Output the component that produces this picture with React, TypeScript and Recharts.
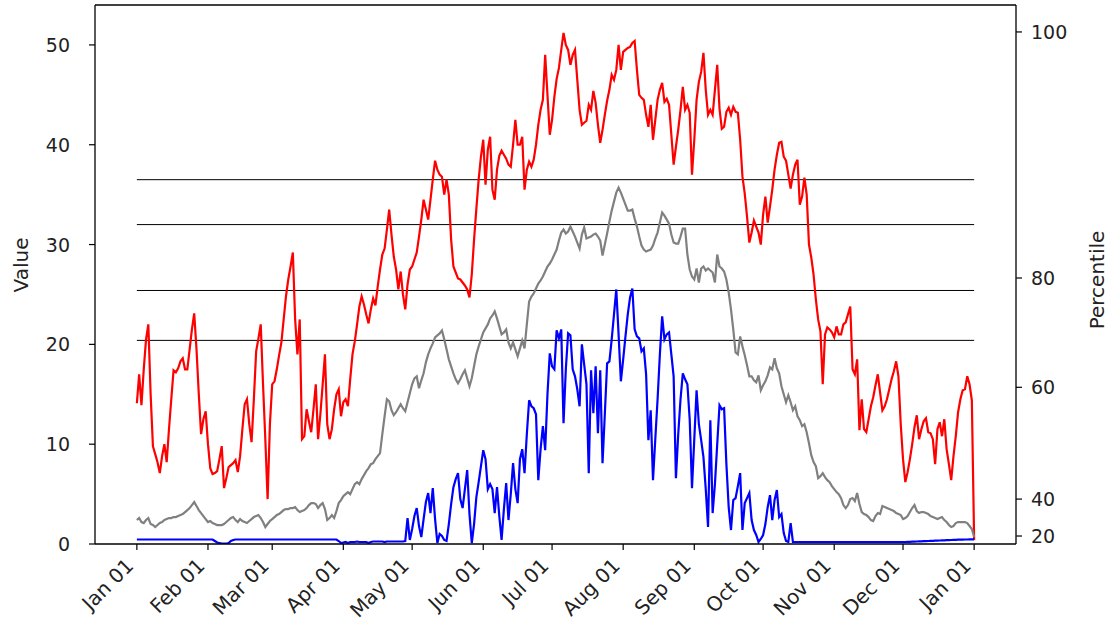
import { ComposedChart, Line, XAxis, YAxis, ReferenceLine } from 'recharts'

// month starts, counted in days from Jan 01
const monthDays = [0, 31, 59, 90, 120, 151, 181, 212, 243, 273, 304, 334, 365]
const monthLabels = [
  'Jan 01', 'Feb 01', 'Mar 01', 'Apr 01', 'May 01', 'Jun 01', 'Jul 01',
  'Aug 01', 'Sep 01', 'Oct 01', 'Nov 01', 'Dec 01', 'Jan 01',
]

const valueTicks = [0, 10, 20, 30, 40, 50]

// right axis: value level at which each percentile sits
const percentileTicks = [0.8, 4.5, 15.7, 26.65, 51.3]
const percentileLabels = ['20', '40', '60', '80', '100']

// threshold levels drawn as thin black lines across the year
const thresholdLevels = [36.5, 32.0, 25.4, 20.4]

const redValues = [
  14.1, 17.0, 13.9, 17.5, 20.5, 22.0, 15.0, 9.8, 9.0, 8.2,
  7.1, 8.8, 10.0, 8.2, 11.5, 14.5, 17.4, 17.2, 17.6, 18.3,
  18.6, 17.5, 17.5, 19.5, 21.5, 23.1, 19.5, 15.0, 11.0, 12.5,
  13.3, 10.0, 7.6, 7.0, 7.1, 7.3, 8.5, 9.8, 5.6, 6.6,
  7.7, 7.9, 8.1, 8.4, 7.2, 8.8, 11.5, 14.0, 14.5, 12.0,
  10.2, 14.5, 19.3, 20.6, 22.0, 16.0, 10.5, 4.5, 12.0, 16.0,
  16.3, 17.5, 18.9, 20.2, 22.5, 24.8, 26.5, 27.8, 29.2, 22.5,
  19.0, 22.5, 10.5, 10.8, 13.5, 12.3, 11.2, 13.5, 16.0, 10.5,
  13.0, 16.0, 19.0, 12.0, 10.5, 11.5, 13.5, 15.0, 15.5, 12.8,
  14.2, 14.5, 13.8, 16.5, 19.0, 20.3, 22.0, 23.8, 24.8, 24.0,
  23.0, 22.1, 23.5, 24.6, 23.9, 25.8, 27.5, 29.0, 29.6, 31.5,
  33.5, 31.0, 28.8, 27.5, 25.5, 27.3, 25.0, 23.5, 26.0, 27.5,
  27.8, 28.5, 29.2, 30.8, 32.5, 34.5, 33.5, 32.5, 34.5, 36.5,
  38.4, 37.5, 37.0, 36.8, 35.0, 36.5, 35.0, 30.5, 27.8, 27.2,
  26.6, 26.5, 26.2, 25.9, 25.5, 24.7, 27.0, 30.5, 33.6, 36.5,
  38.8, 40.5, 36.0, 39.5, 40.8, 35.5, 34.5, 37.5, 38.9, 39.4,
  39.0, 38.6, 38.0, 37.8, 40.0, 42.5, 40.0, 40.0, 40.8, 35.5,
  37.5, 38.3, 37.8, 38.5, 40.0, 42.0, 43.5, 44.5, 49.0, 45.0,
  41.0, 42.5, 44.8, 46.6, 47.7, 49.5, 51.2, 50.0, 49.5, 48.0,
  49.0, 49.5, 46.5, 43.5, 42.0, 42.2, 42.4, 44.0, 43.5, 45.4,
  44.2, 42.0, 40.2, 41.5, 43.0, 44.4, 45.5, 47.0, 46.5, 47.5,
  50.0, 47.5, 49.3, 49.5, 49.7, 49.8, 50.2, 50.4, 47.5, 45.0,
  44.7, 44.5, 43.0, 41.8, 44.0, 40.5, 42.5, 44.5, 45.5, 46.2,
  44.3, 44.6, 44.0, 41.0, 38.0, 39.8, 41.5, 43.5, 45.8, 43.5,
  44.0, 43.2, 37.0, 40.5, 44.5, 46.3, 47.3, 49.2, 45.5, 43.0,
  43.5, 43.0, 45.5, 48.0, 43.6, 41.6, 41.8, 43.3, 43.7, 43.0,
  43.8, 43.3, 43.2, 40.5, 36.8, 35.1, 32.8, 30.2, 31.2, 32.4,
  31.8, 31.2, 30.0, 33.0, 34.8, 32.2, 33.8, 35.5, 37.5, 39.0,
  40.2, 40.3, 38.8, 38.4, 37.0, 35.6, 37.0, 38.0, 38.5, 34.0,
  34.8, 36.7, 35.0, 30.0, 28.7, 27.0, 24.5, 22.5, 21.3, 16.0,
  21.0, 21.7, 21.5, 21.2, 20.7, 21.8, 21.0, 21.0, 22.0, 22.2,
  23.0, 23.8, 17.5, 17.0, 18.5, 11.4, 14.5, 11.5, 11.2, 12.5,
  13.8, 14.7, 15.9, 17.0, 15.2, 13.4, 13.8, 14.5, 15.5, 16.5,
  17.3, 18.3, 16.8, 12.0, 8.5, 6.2, 7.2, 8.5, 10.0, 11.7,
  12.9, 10.5, 11.5, 12.3, 12.6, 11.2, 11.1, 10.5, 8.0, 11.5,
  12.2, 10.8, 12.5, 9.5, 8.0, 6.4, 8.8, 10.8, 13.2, 14.5,
  15.4, 15.5, 16.8, 16.0, 14.4, 0.4,
]

const grayValues = [
  2.4, 2.6, 2.2, 2.1, 2.4, 2.6, 2.0, 1.9, 1.7, 1.9,
  2.1, 2.2, 2.4, 2.5, 2.6, 2.6, 2.7, 2.7, 2.8, 2.9,
  3.0, 3.2, 3.4, 3.6, 3.9, 4.2, 3.8, 3.4, 3.1, 2.8,
  2.5, 2.2, 2.3, 2.1, 2.0, 1.9, 1.9, 1.9, 2.0, 2.2,
  2.4, 2.6, 2.7, 2.4, 2.2, 2.5, 2.3, 2.2, 2.1, 2.3,
  2.5, 2.7, 2.8, 2.9, 2.6, 2.2, 1.7, 2.0, 2.3, 2.5,
  2.7, 2.9, 3.0, 3.2, 3.4, 3.5, 3.5, 3.6, 3.6, 3.7,
  3.4, 3.2, 3.3, 3.4, 3.6, 3.9, 4.1, 4.1, 4.0, 3.6,
  3.9, 4.1, 3.5, 2.4, 2.6, 2.9, 2.6, 3.3, 4.1, 4.4,
  4.8, 5.0, 5.2, 5.0, 5.5, 6.0, 6.2, 6.0, 6.5, 6.9,
  7.3, 7.6, 8.0, 8.1, 8.5, 8.8, 9.1, 11.0, 12.8, 14.5,
  14.3, 13.4, 12.9, 13.2, 13.6, 14.0, 13.6, 13.3, 14.2, 15.1,
  16.0, 16.6, 16.8, 15.6, 16.4, 17.1, 18.2, 19.0, 19.6, 20.1,
  20.7, 20.9, 21.1, 21.4, 20.5, 19.5, 18.5, 17.8, 17.1, 16.5,
  16.1, 16.5, 17.0, 17.4, 16.6, 15.8, 16.6, 17.8, 19.0, 19.8,
  20.5, 21.2, 21.6, 22.0, 22.6, 22.9, 23.3, 22.6, 21.8, 21.0,
  21.2, 21.5, 20.2, 19.6, 20.2, 19.5, 18.8, 19.6, 20.4, 19.6,
  22.0, 24.3, 24.8, 25.1, 25.6, 26.1, 26.4, 26.8, 27.3, 27.8,
  28.1, 28.5, 29.0, 29.5, 30.4, 31.2, 31.5, 31.1, 31.3, 31.8,
  31.3, 30.8, 30.2, 29.6, 31.0, 31.7, 30.6, 30.7, 30.8, 31.0,
  31.1, 30.8, 30.4, 28.9, 30.0, 31.1, 32.3, 33.4, 34.3, 35.2,
  35.7, 35.2, 34.6, 34.0, 33.4, 33.4, 33.5, 32.6, 31.8, 30.8,
  29.9, 29.5, 29.3, 29.4, 29.5, 29.9, 30.6, 31.2, 32.2, 33.2,
  32.9, 32.5, 32.1, 31.0, 30.2, 30.1, 30.1, 30.8, 31.6, 31.6,
  29.0, 27.5, 26.8, 26.5, 27.6, 26.2, 27.6, 27.8, 27.4, 27.6,
  27.4, 27.2, 26.2, 29.0, 27.8, 27.6, 27.3, 26.5, 25.2, 23.5,
  21.5, 19.2, 19.0, 20.8, 19.8, 18.9, 17.9, 16.8, 16.8, 16.4,
  16.2, 16.9, 15.4, 15.9, 16.3, 16.9, 17.7, 17.5, 18.6, 17.6,
  17.1, 15.8, 15.0, 14.2, 14.9, 14.2, 13.4, 13.8, 12.8, 12.4,
  11.8, 12.0, 11.2, 10.1, 8.9, 8.2, 7.8, 6.6, 6.8, 7.1,
  6.7, 6.4, 6.2, 5.8, 5.5, 5.2, 5.0, 4.6, 3.9, 3.6,
  3.9, 4.5, 4.6, 4.3, 5.1, 4.0, 3.2, 3.0, 2.9, 2.7,
  2.4, 2.3, 2.8, 3.1, 3.0, 3.8, 3.7, 3.6, 3.5, 3.4,
  3.3, 3.1, 3.0, 2.9, 2.5, 2.6, 2.8, 3.2, 3.6, 3.9,
  3.3, 3.1, 3.2, 3.2, 3.1, 3.0, 2.8, 2.7, 2.6, 2.5,
  2.6, 2.7, 2.4, 2.2, 1.9, 1.7, 1.8, 2.1, 2.2, 2.2,
  2.2, 2.2, 2.1, 1.8, 1.5, 0.7,
]

const blueValues = [
  0.45, 0.45, 0.45, 0.45, 0.45, 0.45, 0.45, 0.45, 0.45, 0.45,
  0.45, 0.45, 0.45, 0.45, 0.45, 0.45, 0.45, 0.45, 0.45, 0.45,
  0.45, 0.45, 0.45, 0.45, 0.45, 0.45, 0.45, 0.45, 0.45, 0.45,
  0.45, 0.45, 0.45, 0.45, 0.3, 0.15, 0.1, 0.05, 0.05, 0.05,
  0.1, 0.3, 0.4, 0.45, 0.45, 0.45, 0.45, 0.45, 0.45, 0.45,
  0.45, 0.45, 0.45, 0.45, 0.45, 0.45, 0.45, 0.45, 0.45, 0.45,
  0.45, 0.45, 0.45, 0.45, 0.45, 0.45, 0.45, 0.45, 0.45, 0.45,
  0.45, 0.45, 0.45, 0.45, 0.45, 0.45, 0.45, 0.45, 0.45, 0.45,
  0.45, 0.45, 0.45, 0.45, 0.45, 0.45, 0.45, 0.45, 0.3, 0.1,
  0.15, 0.2, 0.1, 0.2, 0.2, 0.2, 0.25, 0.2, 0.2, 0.2,
  0.2, 0.1, 0.2, 0.25, 0.25, 0.25, 0.25, 0.25, 0.2, 0.25,
  0.25, 0.25, 0.25, 0.25, 0.25, 0.25, 0.25, 0.3, 2.6, 0.4,
  1.5, 2.8, 3.6, 1.8, 0.7, 2.5, 4.2, 5.1, 3.1, 5.6,
  2.5, 0.1, 1.0, 0.8, 0.4, 0.3, 2.0, 4.0, 5.7, 6.5,
  7.1, 4.5, 3.6, 5.5, 7.4, 3.0, 0.1, 2.0, 4.7, 6.2,
  7.8, 9.4, 8.5, 5.5, 6.0, 5.5, 3.1, 5.7, 2.8, 0.4,
  3.5, 6.1, 2.4, 5.0, 8.1, 5.5, 4.1, 8.5, 9.5, 7.1,
  11.0, 14.4, 13.8, 13.6, 13.0, 6.4, 9.5, 11.8, 9.4, 15.0,
  19.1, 17.8, 17.5, 21.4, 20.6, 21.5, 12.1, 17.5, 21.1, 20.9,
  17.5, 16.8, 15.5, 13.8, 20.0, 18.0, 16.0, 7.1, 17.4, 13.1,
  17.8, 11.1, 17.4, 8.1, 13.0, 18.1, 18.3, 20.5, 23.0, 25.5,
  21.0, 16.3, 18.5, 20.8, 23.0, 24.7, 25.6, 21.5, 20.8, 20.6,
  19.3, 19.6, 17.0, 10.4, 13.4, 6.4, 10.5, 14.5, 19.0, 22.8,
  20.5, 21.0, 21.2, 19.0, 16.8, 6.6, 11.0, 14.5, 17.1, 16.5,
  16.0, 12.5, 5.6, 10.5, 15.4, 12.0, 10.4, 8.7, 5.5, 1.7,
  12.4, 3.1, 6.0, 10.0, 13.9, 13.5, 13.6, 8.0, 3.7, 1.4,
  4.4, 4.6, 5.8, 7.1, 1.4, 4.1, 4.6, 5.1, 2.4, 1.4,
  0.9, 0.2, 0.5, 0.9, 2.0, 3.7, 4.9, 2.4, 4.4, 5.4,
  2.7, 3.0, 1.1, 0.3, 0.2, 2.1, 0.2, 0.2, 0.2, 0.2,
  0.2, 0.2, 0.2, 0.2, 0.2, 0.2, 0.2, 0.2, 0.2, 0.2,
  0.2, 0.2, 0.2, 0.2, 0.2, 0.2, 0.2, 0.2, 0.2, 0.2,
  0.2, 0.2, 0.2, 0.2, 0.2, 0.2, 0.2, 0.2, 0.2, 0.2,
  0.2, 0.2, 0.2, 0.2, 0.2, 0.2, 0.2, 0.2, 0.2, 0.2,
  0.2, 0.2, 0.2, 0.2, 0.2, 0.2, 0.21, 0.22, 0.23, 0.24,
  0.25, 0.26, 0.27, 0.28, 0.29, 0.3, 0.31, 0.32, 0.33, 0.34,
  0.35, 0.36, 0.37, 0.38, 0.39, 0.4, 0.41, 0.42, 0.43, 0.44,
  0.44, 0.45, 0.45, 0.46, 0.46, 0.47,
]

const rows = redValues.map((red, day) => ({
  day,
  red,
  gray: grayValues[day],
  blue: blueValues[day],
}))

const FONT = '"DejaVu Sans", sans-serif'
const INK = '#222'
const TICK_FONT = 19

const MonthTick = (props: any) => {
  const { x, y, payload } = props
  const label = monthLabels[monthDays.indexOf(payload.value)]
  const ax = x - 2
  const ay = y + 17
  return (
    <text
      x={ax}
      y={ay}
      transform={`rotate(-45 ${ax} ${ay})`}
      textAnchor="end"
      fontSize={20}
      fontFamily={FONT}
      fill={INK}
    >
      {label}
    </text>
  )
}

const ValueTick = (props: any) => {
  const { x, y, payload } = props
  return (
    <text x={x} y={y + 7} textAnchor="end" fontSize={TICK_FONT} fontFamily={FONT} fill={INK}>
      {payload.value}
    </text>
  )
}

const PercentileTick = (props: any) => {
  const { x, y, payload } = props
  const label = percentileLabels[percentileTicks.indexOf(payload.value)]
  return (
    <text x={x} y={y + 7} textAnchor="start" fontSize={TICK_FONT} fontFamily={FONT} fill={INK}>
      {label}
    </text>
  )
}

const axisLabel = {
  position: 'absolute' as const,
  transform: 'translate(-50%, -50%) rotate(-90deg)',
  fontFamily: FONT,
  fontSize: 20,
  color: INK,
  whiteSpace: 'nowrap' as const,
}

export default function App() {
  return (
    <div style={{ position: 'absolute', left: 0, top: 0, width: 1111, height: 629, background: '#fff' }}>
      <ComposedChart
        width={1111}
        height={629}
        data={rows}
        margin={{ top: 5, right: 0, bottom: 0, left: 0 }}
      >
        <XAxis
          dataKey="day"
          type="number"
          domain={[-18.25, 383.25]}
          ticks={monthDays}
          interval={0}
          allowDataOverflow
          height={85}
          tickSize={6}
          tickMargin={0}
          tick={<MonthTick />}
          axisLine={{ stroke: '#000', strokeWidth: 1.3 }}
          tickLine={{ stroke: '#000', strokeWidth: 1.2 }}
        />
        <YAxis
          yAxisId="left"
          domain={[0, 54]}
          ticks={valueTicks}
          interval={0}
          allowDataOverflow
          width={95}
          tickSize={6}
          tickMargin={19}
          tick={<ValueTick />}
          axisLine={{ stroke: '#000', strokeWidth: 1.3 }}
          tickLine={{ stroke: '#000', strokeWidth: 1.2 }}
        />
        <YAxis
          yAxisId="right"
          orientation="right"
          domain={[0, 54]}
          ticks={percentileTicks}
          interval={0}
          allowDataOverflow
          width={95}
          tickSize={6}
          tickMargin={9}
          tick={<PercentileTick />}
          axisLine={{ stroke: '#000', strokeWidth: 1.3 }}
          tickLine={{ stroke: '#000', strokeWidth: 1.2 }}
        />
        <ReferenceLine yAxisId="left" y={54} stroke="#000" strokeWidth={1.3} />
        {thresholdLevels.map((level) => (
          <ReferenceLine
            key={level}
            yAxisId="left"
            segment={[
              { x: monthDays[0], y: level },
              { x: monthDays[monthDays.length - 1], y: level },
            ]}
            stroke="#000"
            strokeWidth={1}
          />
        ))}
        <Line yAxisId="left" type="linear" dataKey="red" stroke="#ff0000" strokeWidth={2.2} dot={false} isAnimationActive={false} />
        <Line yAxisId="left" type="linear" dataKey="gray" stroke="#808080" strokeWidth={2.2} dot={false} isAnimationActive={false} />
        <Line yAxisId="left" type="linear" dataKey="blue" stroke="#0000ff" strokeWidth={2.2} dot={false} isAnimationActive={false} />
      </ComposedChart>
      <div style={{ ...axisLabel, left: 21, top: 265 }}>Value</div>
      <div style={{ ...axisLabel, left: 1097, top: 280 }}>Percentile</div>
    </div>
  )
}
